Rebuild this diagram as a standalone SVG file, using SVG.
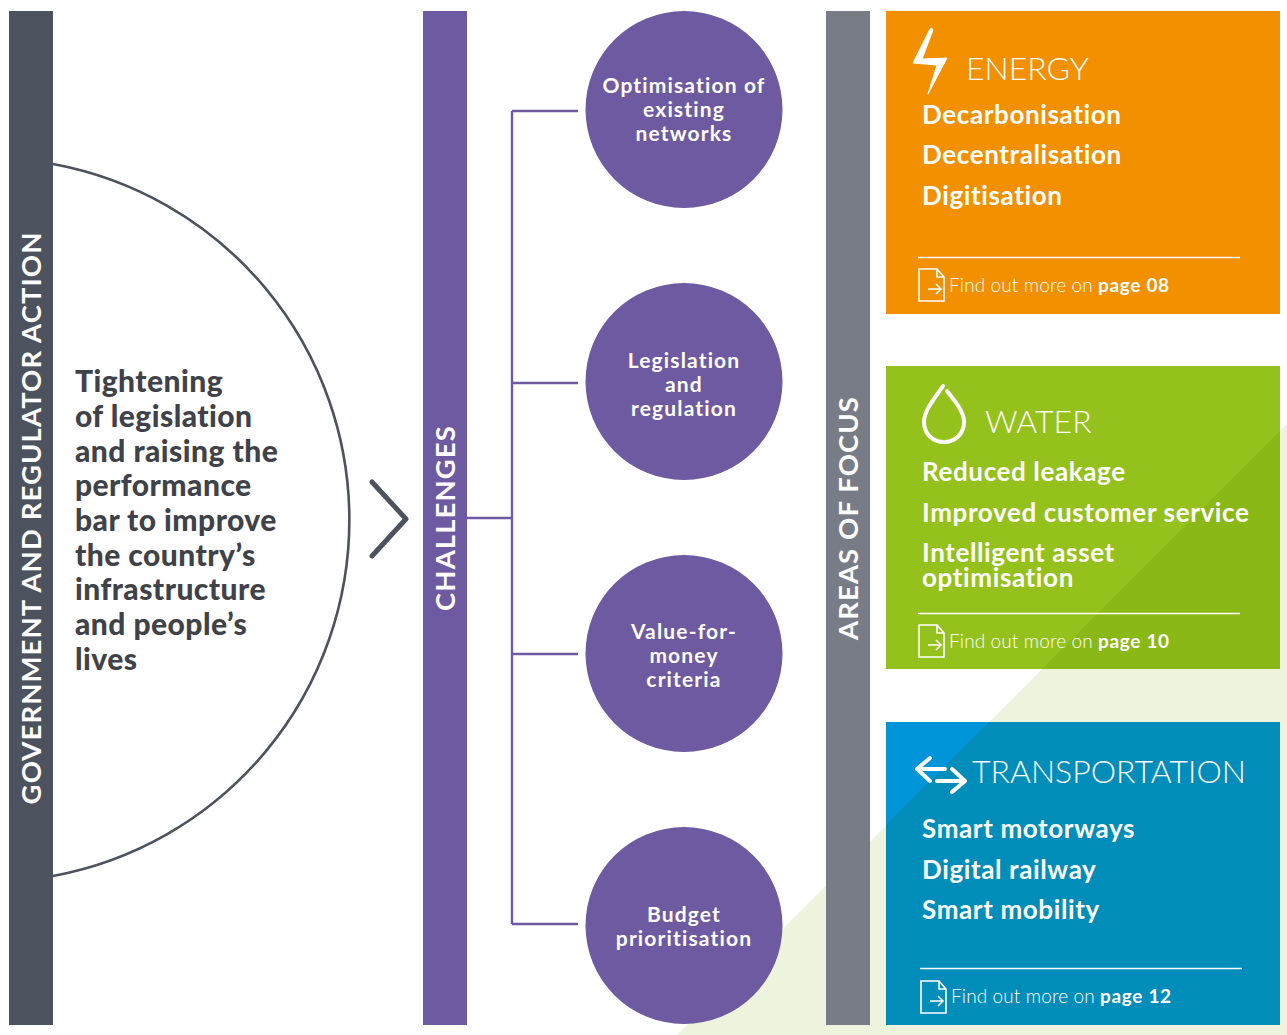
<svg xmlns="http://www.w3.org/2000/svg" width="1287" height="1035" viewBox="0 0 1287 1035">
<style>
text{font-family:"Lato","Liberation Sans",sans-serif;fill:#fff}
.bar{font-weight:700;font-size:27.500px;letter-spacing:1.1px;text-anchor:middle}
.c{font-weight:700;font-size:21px;text-anchor:middle;letter-spacing:1.15px}
.h{font-weight:300;font-size:32px}
.i{font-weight:700;font-size:26px;letter-spacing:.62px}
.f{font-weight:300;font-size:19px;letter-spacing:.12px}
.f tspan{font-weight:700;letter-spacing:.65px}
.m{font-weight:900;font-size:30px;fill:#3f4248;letter-spacing:.45px}
.ln{fill:none;stroke:#fff;stroke-width:1.6}
.ic{fill:none;stroke:#fff;stroke-width:4;stroke-linecap:round;stroke-linejoin:round}
.con{fill:none;stroke:#6e5aa0;stroke-width:2.4}
.dot{fill:#6e5aa0}
</style>
<rect width="1287" height="1035" fill="#fff"/>
<polygon id="bg-triangle" points="1287,424 1287,1035 677,1035" fill="#eef3de"/>

<g id="government">
<path d="M53 164A362 362 0 0 1 53 876" fill="none" stroke="#4d535e" stroke-width="2.6"/>
<rect x="9" y="11" width="44" height="1014" fill="#4d535e"/>
<text class="bar" transform="translate(41 518) rotate(-90)">GOVERNMENT AND REGULATOR ACTION</text>
<text class="m"><tspan x="75" y="392">Tightening</tspan><tspan x="75" y="427">of legislation</tspan><tspan x="75" y="462">and raising the</tspan><tspan x="75" y="496">performance</tspan><tspan x="75" y="531">bar to improve</tspan><tspan x="75" y="566">the country’s</tspan><tspan x="75" y="600">infrastructure</tspan><tspan x="75" y="635">and people’s</tspan><tspan x="75" y="670">lives</tspan></text>
</g>
<path id="chevron" d="M372 482L406 519L372 556" fill="none" stroke="#4d535e" stroke-width="5" stroke-linecap="round" stroke-linejoin="round"/>

<g id="challenges">
<rect x="423" y="11" width="44" height="1014" fill="#6e5aa0"/>
<text class="bar" transform="translate(455 518) rotate(-90)">CHALLENGES</text>
</g>

<g id="connectors">
<path class="con" d="M467 518H512M512 111V924M512 111H578M512 383H578M512 654H578M512 924H578"/>
</g>

<g id="n1"><circle class="dot" cx="684" cy="109.500" r="98.500"/><text class="c"><tspan x="684" y="93">Optimisation of</tspan><tspan x="684" y="117">existing</tspan><tspan x="684" y="141">networks</tspan></text></g>
<g id="n2"><circle class="dot" cx="684" cy="381.500" r="98.500"/><text class="c"><tspan x="684" y="368">Legislation</tspan><tspan x="684" y="392">and</tspan><tspan x="684" y="416">regulation</tspan></text></g>
<g id="n3"><circle class="dot" cx="684" cy="653.500" r="98.500"/><text class="c"><tspan x="684" y="639">Value-for-</tspan><tspan x="684" y="663">money</tspan><tspan x="684" y="687">criteria</tspan></text></g>
<g id="n4"><circle class="dot" cx="684" cy="925.500" r="98.500"/><text class="c"><tspan x="684" y="922">Budget</tspan><tspan x="684" y="946">prioritisation</tspan></text></g>

<g id="focus">
<rect x="826" y="11" width="44" height="1014" fill="#787c87"/>
<text class="bar" transform="translate(858 518) rotate(-90)">AREAS OF FOCUS</text>
</g>

<g id="energy">
<rect x="886" y="11" width="394" height="303" fill="#f39000"/>
<path d="M930 29Q932 27 933 30L922 59L947 58L928 94L937 65L913 63Z" fill="#fff" stroke="#fff" stroke-width="1" stroke-linejoin="round"/>
<text class="h" x="966" y="80">ENERGY</text>
<text class="i"><tspan x="922" y="124">Decarbonisation</tspan><tspan x="922" y="164">Decentralisation</tspan><tspan x="922" y="205">Digitisation</tspan></text>
<path class="ln" d="M918 257.500H1240"/>
<path class="ln" d="M919 269H937L944 277V301H919ZM937 269V277H944M928 289H941M936 284L941 289L936 294"/>
<text class="f" x="949" y="292">Find out more on <tspan>page 08</tspan></text>
</g>

<g id="water">
<rect x="886" y="366" width="394" height="303" fill="#94c11c"/>
<polygon points="1280,431 1280,669 1042,669" fill="#8ab816"/>
<path class="ic" d="M943 386C935 398 924 410 924 422C924 434 933 442 944 442C955 442 964 434 964 422C964 411 954 400 947 391"/>
<text class="h" x="985" y="433">WATER</text>
<text class="i"><tspan x="922" y="481">Reduced leakage</tspan><tspan x="922" y="522">Improved customer service</tspan><tspan x="922" y="562">Intelligent asset</tspan><tspan x="922" y="587">optimisation</tspan></text>
<path class="ln" d="M918 613.500H1240"/>
<path class="ln" d="M919 625H937L944 633V657H919ZM937 625V633H944M928 645H941M936 640L941 645L936 650"/>
<text class="f" x="949" y="648">Find out more on <tspan>page 10</tspan></text>
</g>

<g id="transportation">
<rect x="886" y="722" width="394" height="303" fill="#0095d9"/>
<polygon points="989,722 1280,722 1280,1025 886,1025 886,825" fill="#008db9"/>
<path class="ic" d="M930 758L917 769L930 781M918 769H945M937 781H964M952 769L965 781L952 792"/>
<text class="h" x="972" y="783">TRANSPORTATION</text>
<text class="i"><tspan x="922" y="838">Smart motorways</tspan><tspan x="922" y="879">Digital railway</tspan><tspan x="922" y="919">Smart mobility</tspan></text>
<path class="ln" d="M920 968.500H1242"/>
<path class="ln" d="M921 981H939L946 989V1013H921ZM939 981V989H946M930 1001H943M938 996L943 1001L938 1006"/>
<text class="f" x="951" y="1003">Find out more on <tspan>page 12</tspan></text>
</g>
</svg>
